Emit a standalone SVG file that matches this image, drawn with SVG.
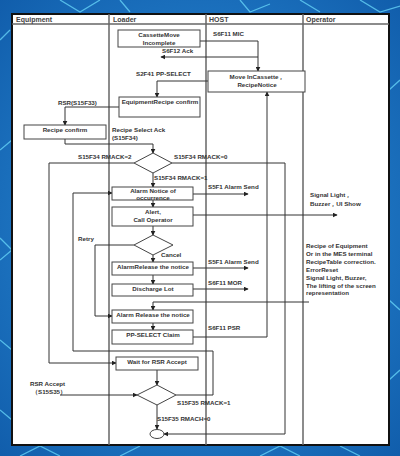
<svg xmlns="http://www.w3.org/2000/svg" width="400" height="456" viewBox="0 0 400 456">
<defs>
<radialGradient id="bg" cx="0.5" cy="0.5" r="0.75">
<stop offset="0" stop-color="#2f95e0"/>
<stop offset="1" stop-color="#0f5aa8"/>
</radialGradient>
<marker id="ar" viewBox="0 0 8 8" refX="7" refY="4" markerWidth="5" markerHeight="5" orient="auto" markerUnits="userSpaceOnUse">
<path d="M0,0 L8,4 L0,8 z" fill="#222"/>
</marker>
<style>
.t{font-family:"Liberation Sans",Arial,sans-serif;font-size:6.2px;font-weight:bold;fill:#333}
.h{font-family:"Liberation Sans",Arial,sans-serif;font-size:7px;font-weight:bold;fill:#444}
.c{text-anchor:middle}
.box{fill:#fff;stroke:#444;stroke-width:1}
.ln{fill:none;stroke:#333;stroke-width:1;marker-end:url(#ar)}
.lane{stroke:#666;stroke-width:1.5}
.deco{fill:none;stroke:#6fe0ff;stroke-width:1.3;opacity:0.7}
</style>
</defs>
<rect width="400" height="456" fill="url(#bg)"/>
<g id="background-pattern">
<path class="deco" d="M0,40 L10,30 M60,0 L80,12 L100,0 M120,0 L130,12 M240,0 L250,12 L270,4 M300,0 L320,12 M360,0 L380,12 L400,6"/>
<path class="deco" d="M0,150 L12,140 M0,260 L12,250 L0,238 M0,340 L12,350 M0,410 L12,420"/>
<path class="deco" d="M389,90 L400,80 M389,300 L400,310 M389,380 L400,370"/>
<path class="deco" d="M20,456 L40,446 L60,456 M120,456 L140,446 M260,456 L280,446 L300,456 M340,446 L360,456"/>
</g>
<rect x="12" y="14" width="377" height="431" fill="#fff" stroke="#111" stroke-width="2"/>
<g id="lanes">
<line x1="12" y1="24" x2="389" y2="24" stroke="#666" stroke-width="1.5"/>
<line class="lane" x1="109" y1="14" x2="109" y2="445"/>
<line class="lane" x1="206" y1="14" x2="206" y2="445"/>
<line class="lane" x1="303" y1="14" x2="303" y2="445"/>
<text class="h" x="16" y="22">Equipment</text>
<text class="h" x="113" y="22">Loader</text>
<text class="h" x="209" y="22">HOST</text>
<text class="h" x="306" y="22">Operator</text>
</g>
<g id="connectors">
<path class="ln" d="M200,41 H258 V71"/>
<path class="ln" d="M258,57 H161"/>
<path class="ln" d="M208,81 H157 V97"/>
<path class="ln" d="M119,107 H65 V125"/>
<path class="ln" d="M65,139 V144 H153 V153"/>
<path class="ln" d="M134,163 H49 V363 H116"/>
<path class="ln" d="M172,163 H285 V434 H164"/>
<path class="ln" d="M153,173 V187"/>
<path class="ln" d="M193,194 H248"/>
<path class="ln" d="M153,200 V207"/>
<path class="ln" d="M193,215 H337"/>
<path class="ln" d="M153,226 V235"/>
<path class="ln" d="M134,245 H95 V316 H112"/>
<path class="ln" d="M153,255 V262"/>
<path class="ln" d="M193,268 H248"/>
<path class="ln" d="M153,275 V284"/>
<path class="ln" d="M193,289 H248"/>
<path class="ln" d="M309,302 H153 V310"/>
<path class="ln" d="M153,323 V330"/>
<path class="ln" d="M193,337 H267 V92"/>
<path class="ln" d="M176,395 H213 V351 H73 V193 H112"/>
<path class="ln" d="M157,370 V385"/>
<path class="ln" d="M60,395 H137"/>
<path class="ln" d="M157,405 V429"/>
</g>
<g id="connector-labels">
<text class="t" x="213" y="36">S6F11 MIC</text>
<text class="t" x="162" y="53">S6F12 Ack</text>
<text class="t" x="136" y="76">S2F41 PP-SELECT</text>
<text class="t" x="58" y="105">RSR(S15F33)</text>
<text class="t" x="112" y="132">Recipe Select Ack</text>
<text class="t" x="112" y="140">(S15F34)</text>
<text class="t" x="78" y="159">S15F34 RMACK=2</text>
<text class="t" x="174" y="159">S15F34 RMACK=0</text>
<text class="t" x="154" y="180">S15F34 RMACK=1</text>
<text class="t" x="208" y="189">S5F1 Alarm Send</text>
<text class="t" x="310" y="197">Signal Light，</text>
<text class="t" x="310" y="206">Buzzer，UI Show</text>
<text class="t" x="78" y="241">Retry</text>
<text class="t" x="161" y="257">Cancel</text>
<text class="t" x="208" y="264">S5F1 Alarm Send</text>
<text class="t" x="208" y="285">S6F11 MOR</text>
<text class="t" x="306" y="248">Recipe of Equipment</text>
<text class="t" x="306" y="256">Or in the MES terminal</text>
<text class="t" x="306" y="264">RecipeTable correction.</text>
<text class="t" x="306" y="272">ErrorReset</text>
<text class="t" x="306" y="280">Signal Light, Buzzer,</text>
<text class="t" x="306" y="288">The lifting of the screen</text>
<text class="t" x="306" y="295">representation</text>
<text class="t" x="208" y="330">S6F11 PSR</text>
<text class="t" x="30" y="386">RSR Accept</text>
<text class="t" x="32" y="394">（S15S35）</text>
<text class="t" x="177" y="405">S15F35 RMACK=1</text>
<text class="t" x="157" y="421">S15F35 RMACH=0</text>
</g>
<g id="n-cassette"><rect class="box" x="118" y="30" width="82" height="17"/><text class="t c" x="159" y="37">CassetteMove</text><text class="t c" x="159" y="45">Incomplete</text></g>
<g id="n-movein"><rect class="box" x="208" y="71" width="97" height="21"/><text class="t c" x="257" y="79">Move InCassette，</text><text class="t c" x="257" y="87">RecipeNotice</text></g>
<g id="n-eqrecipe"><rect class="box" x="119" y="97" width="81" height="20"/><text class="t c" x="160" y="104">EquipmentRecipe confirm</text></g>
<g id="n-recipeconfirm"><rect class="box" x="24" y="125" width="82" height="14"/><text class="t c" x="65" y="132">Recipe confirm</text></g>
<g id="n-d1"><polygon class="box" points="153,153 172,163 153,173 134,163"/></g>
<g id="n-alarmnotice"><rect class="box" x="112" y="187" width="81" height="13"/><text class="t c" x="153" y="193">Alarm Notice of</text><text class="t c" x="153" y="200">occurrence</text></g>
<g id="n-alert"><rect class="box" x="112" y="207" width="81" height="19"/><text class="t c" x="153" y="214">Alert,</text><text class="t c" x="153" y="222">Call Operator</text></g>
<g id="n-d2"><polygon class="box" points="153,235 173,245 153,255 134,245"/></g>
<g id="n-release1"><rect class="box" x="112" y="262" width="81" height="13"/><text class="t c" x="153" y="269">AlarmRelease the notice</text></g>
<g id="n-discharge"><rect class="box" x="112" y="284" width="81" height="12"/><text class="t c" x="153" y="291">Discharge Lot</text></g>
<g id="n-release2"><rect class="box" x="112" y="310" width="81" height="13"/><text class="t c" x="153" y="317">Alarm Release the notice</text></g>
<g id="n-ppselect"><rect class="box" x="112" y="330" width="81" height="14"/><text class="t c" x="153" y="337">PP-SELECT Claim</text></g>
<g id="n-wait"><rect class="box" x="116" y="357" width="82" height="13"/><text class="t c" x="157" y="364">Wait for RSR Accept</text></g>
<g id="n-d3"><polygon class="box" points="157,385 176,395 157,405 137,395"/></g>
<g id="n-end"><ellipse class="box" cx="157" cy="434" rx="7" ry="4.5"/></g>
</svg>
